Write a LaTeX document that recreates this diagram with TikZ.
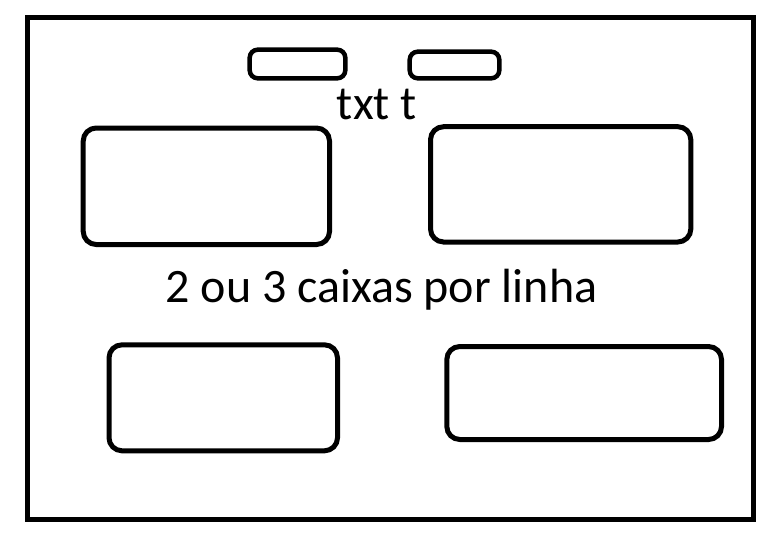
\documentclass[tikz,border=0pt]{standalone}
\usepackage{fontspec}
\setmainfont{Carlito}
\begin{document}
\begin{tikzpicture}[x=1pt,y=-1pt,
  frame/.style={draw,line width=5pt,inner sep=0pt,outer sep=0pt},
  bigbox/.style={draw,line width=5pt,rounded corners=13pt,inner sep=0pt},
  smallbox/.style={draw,line width=4.5pt,rounded corners=8pt,inner sep=0pt},
  lbl/.style={font=\fontsize{48}{52}\selectfont,inner sep=0pt,anchor=base}]
\useasboundingbox (0,0) rectangle (784,543);
\node[frame,minimum width=726pt,minimum height=501pt] (outer) at (390.5,268.5) {};
\node[smallbox,minimum width=95.6pt,minimum height=28.6pt] (s1) at (297.5,64) {};
\node[smallbox,minimum width=89.6pt,minimum height=26.6pt] (s2) at (454.5,65) {};
\node[lbl] (t1) at (377,119) {txt t};
\node[bigbox,minimum width=246.3pt,minimum height=116.5pt] (b1) at (206.35,186.25) {};
\node[bigbox,minimum width=260.3pt,minimum height=115.3pt] (b2) at (560.65,184.35) {};
\node[lbl] (t2) at (381.5,302) {2 ou 3 caixas por linha};
\node[bigbox,minimum width=228.5pt,minimum height=106pt] (b3) at (223.25,397.8) {};
\node[bigbox,minimum width=274.7pt,minimum height=93pt] (b4) at (584.15,393) {};
\end{tikzpicture}
\end{document}
